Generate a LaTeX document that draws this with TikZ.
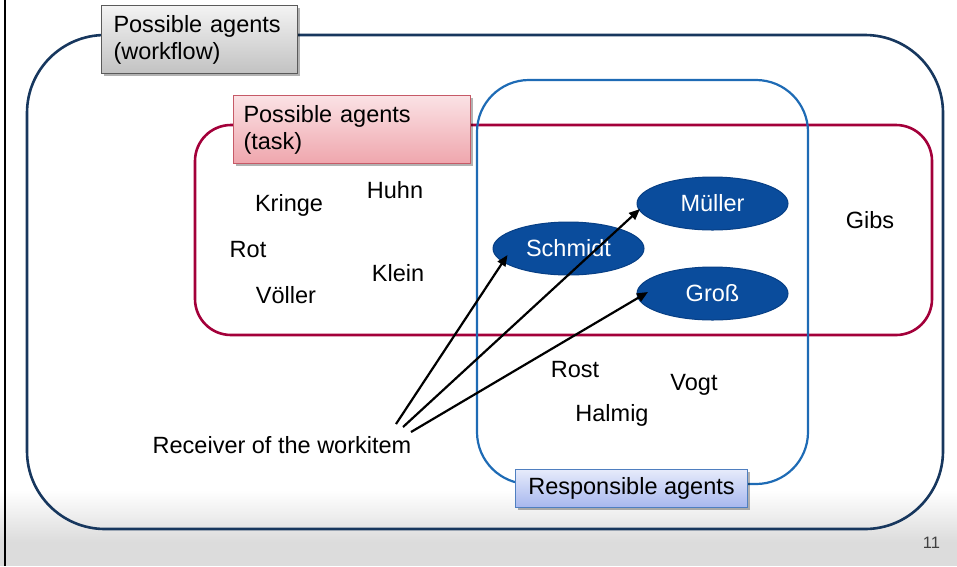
\documentclass[tikz,border=0pt]{standalone}
\usepackage{fontspec}
\setmainfont{Liberation Sans}
\usetikzlibrary{arrows.meta,shadows,calc,shapes.geometric}

\definecolor{navy}{HTML}{17375E}
\definecolor{crimson}{HTML}{A3003A}
\definecolor{respblue}{HTML}{1E6BB5}
\definecolor{ellfill}{HTML}{0A4C9C}
\definecolor{ellborder}{HTML}{073F85}
\definecolor{greytop}{HTML}{F3F3F3}
\definecolor{greybot}{HTML}{C2C2C2}
\definecolor{greyedge}{HTML}{5A5A5A}
\definecolor{pinktop}{HTML}{FBE2E5}
\definecolor{pinkbot}{HTML}{EFA6AD}
\definecolor{pinkedge}{HTML}{C65A67}
\definecolor{bluetop}{HTML}{E6EBFB}
\definecolor{bluebot}{HTML}{A7B7EE}
\definecolor{blueedge}{HTML}{4F7FC0}
\definecolor{footgrey}{HTML}{DCDCDC}
\definecolor{numgrey}{HTML}{404040}

\begin{document}
\begin{tikzpicture}[x=1pt,y=-1pt,
  txt/.style={font=\fontsize{23.5}{27}\selectfont, inner sep=0pt},
  lbl/.style={txt, draw, line width=1pt, align=left, anchor=north west,
    drop shadow={shadow xshift=2pt, shadow yshift=-2.5pt, opacity=0.3, fill=black}},
  agent/.style={ellipse, draw=ellborder, line width=1pt, fill=ellfill, text=white,
    minimum width=151pt, minimum height=53pt, inner sep=0pt,
    font=\fontsize{23.5}{27}\selectfont},
  recv/.style={line width=2.2pt, -{Triangle[length=11pt,width=9pt]}}
]
\useasboundingbox (0,0) rectangle (957,566);

% page footer band and left rule
\shade[top color=white, bottom color=footgrey] (0,490) rectangle (957,542);
\fill[footgrey] (0,541.5) rectangle (957,566);
\draw[line width=2.5pt] (5,0) -- (5,566);

% the three agent sets
\draw[navy, line width=2.6pt, rounded corners=78pt] (27,35) rectangle (943,529);
\draw[crimson, line width=2.6pt, rounded corners=36pt] (195,125) rectangle (932,335);
\draw[respblue, line width=2.2pt, rounded corners=52pt] (477,80) rectangle (808,484);

% set labels
\node[lbl, draw=greyedge, top color=greytop, bottom color=greybot,
      minimum width=196pt, minimum height=68pt, text width=172pt, inner xsep=12pt]
  (wf) at (101,5) {Possible agents\\(workflow)};
\node[lbl, draw=pinkedge, top color=pinktop, bottom color=pinkbot,
      minimum width=237pt, minimum height=68pt, text width=217pt, inner xsep=10pt]
  (task) at (233,95) {Possible agents\\(task)};
\node[lbl, draw=blueedge, top color=bluetop, bottom color=bluebot, align=center,
      minimum width=232pt, minimum height=38pt]
  (resp) at (515,469) {Responsible agents};

% agents
\node[txt] (kringe) at (289,205) {Kringe};
\node[txt] (huhn)   at (395,190) {Huhn};
\node[txt] (rot)    at (248,250) {Rot};
\node[txt] (klein)  at (398,273) {Klein};
\node[txt] (voeller) at (286,295) {Völler};
\node[txt] (rost)   at (575,370) {Rost};
\node[txt] (vogt)   at (694,385) {Vogt};
\node[txt] (halmig) at (612,415) {Halmig};
\node[txt] (gibs)   at (870,220) {Gibs};

\node[agent] (schmidt) at (568.5,248.5) {Schmidt};
\node[agent] (mueller) at (712.5,203.5) {Müller};
\node[agent] (gross)   at (712.5,293.5) {Groß};

% receivers of the workitem
\node[txt] (receiver) at (282,445) {Receiver of the workitem};
\coordinate (r1) at (396,424);
\coordinate (r2) at (403,427);
\coordinate (r3) at (411,432);
\draw[recv] (r1) -- ([shift={(-61,6.5)}]schmidt.center);
\draw[recv] (r2) -- ([shift={(-72.5,5.5)}]mueller.center);
\draw[recv] (r3) -- ([shift={(-64.5,-1.5)}]gross.center);

% slide number
\node[font=\fontsize{16.5}{18}\selectfont, text=numgrey, inner sep=0pt] (pageno) at (931.5,543) {11};
\end{tikzpicture}
\end{document}
